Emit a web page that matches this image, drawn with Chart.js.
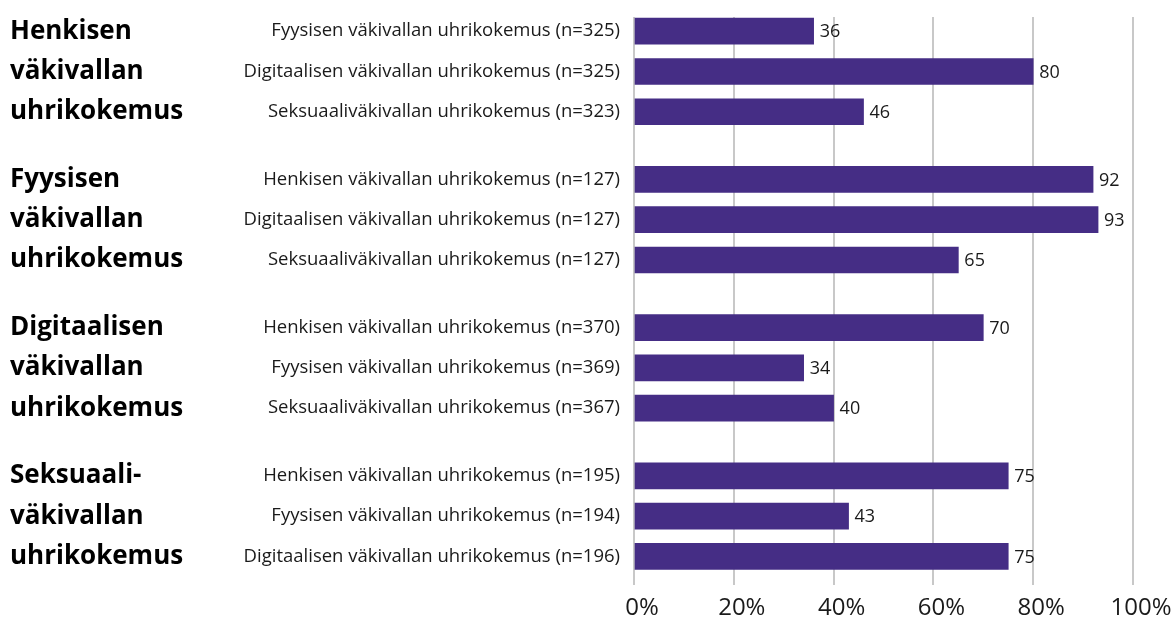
<!DOCTYPE html>
<html>
<head>
<meta charset="utf-8">
<script src="https://cdn.jsdelivr.net/npm/chart.js@4/dist/chart.umd.min.js"></script>
<style>
  body { margin: 0; background: #fff; }
  .chart-ctnr { width: 1175px; height: 621px; position: relative; }
</style>
</head>
<body>
<div class="chart-ctnr"><canvas id="barchart"></canvas></div>
<script>
// bar labels, top to bottom
const categories = [
  "Fyysisen väkivallan uhrikokemus (n=325)",
  "Digitaalisen väkivallan uhrikokemus (n=325)",
  "Seksuaaliväkivallan uhrikokemus (n=323)",
  "Henkisen väkivallan uhrikokemus (n=127)",
  "Digitaalisen väkivallan uhrikokemus (n=127)",
  "Seksuaaliväkivallan uhrikokemus (n=127)",
  "Henkisen väkivallan uhrikokemus (n=370)",
  "Fyysisen väkivallan uhrikokemus (n=369)",
  "Seksuaaliväkivallan uhrikokemus (n=367)",
  "Henkisen väkivallan uhrikokemus (n=195)",
  "Fyysisen väkivallan uhrikokemus (n=194)",
  "Digitaalisen väkivallan uhrikokemus (n=196)",
];
const values = [36, 80, 46, 92, 93, 65, 70, 34, 40, 75, 43, 75];
// which group every bar belongs to
const groupOf = [0, 0, 0, 1, 1, 1, 2, 2, 2, 3, 3, 3];
// group headings, one line per bar row
const groupLines = [
  "Henkisen", "väkivallan", "uhrikokemus",
  "Fyysisen", "väkivallan", "uhrikokemus",
  "Digitaalisen", "väkivallan", "uhrikokemus",
  "Seksuaali-", "väkivallan", "uhrikokemus",
];
const xTicks = [0, 20, 40, 60, 80, 100];

const FONT = "'Open Sans', 'Noto Sans', sans-serif";
const GROUP_GAP = 0.68;

// row position = bar index plus an extra gap for every group before it
const rowPos = categories.map((c, i) => i + groupOf[i] * GROUP_GAP);
const yMin = -0.35;
const yMax = rowPos[rowPos.length - 1] + 0.71;

// write the value just after the end of each bar
const valueLabelPlugin = {
  id: "valueLabels",
  afterDatasetsDraw(chart) {
    const ctx = chart.ctx;
    const meta = chart.getDatasetMeta(0);
    ctx.save();
    ctx.font = "18px " + FONT;
    ctx.fillStyle = "#1a1a1a";
    ctx.textAlign = "left";
    ctx.textBaseline = "middle";
    meta.data.forEach((bar, i) => {
      ctx.fillText(values[i], bar.x + 6, bar.y + 1);
    });
    ctx.restore();
  },
};

const ctx = document.getElementById("barchart");
new Chart(ctx, {
  type: "bar",
  data: {
    datasets: [
      {
        data: values.map((v, i) => ({ x: v, y: rowPos[i] })),
        backgroundColor: "#452d85",
        barThickness: 26,
        yAxisID: "y",
      },
    ],
  },
  options: {
    indexAxis: "y",
    responsive: true,
    maintainAspectRatio: false,
    animation: false,
    layout: { padding: { top: 12, left: 10, right: 42, bottom: 0 } },
    plugins: { legend: { display: false }, tooltip: { enabled: false } },
    scales: {
      x: {
        type: "linear",
        min: 0,
        max: 100,
        afterBuildTicks: (axis) => {
          axis.ticks = xTicks.map((v) => ({ value: v }));
        },
        afterFit: (axis) => {
          axis.height = 36;
        },
        ticks: {
          callback: (v) => v + "%",
          font: { family: FONT, size: 24 },
          color: "#1a1a1a",
          padding: 9,
          labelOffset: 8,
          maxRotation: 0,
        },
        grid: { color: "#c8c8c8", lineWidth: 2, drawTicks: false },
        border: { display: false },
      },
      y: {
        type: "linear",
        reverse: true,
        offset: false,
        min: yMin,
        max: yMax,
        weight: 0,
        afterBuildTicks: (axis) => {
          axis.ticks = rowPos.map((v) => ({ value: v }));
        },
        afterFit: (axis) => {
          axis.width = 404;
        },
        ticks: {
          autoSkip: false,
          callback: (v, i) => categories[i],
          font: { family: FONT, size: 18.5 },
          color: "#1a1a1a",
          padding: 6,
        },
        grid: { display: false, offset: false },
        border: { display: false },
      },
      y2: {
        type: "linear",
        position: "left",
        reverse: true,
        offset: false,
        min: yMin,
        max: yMax,
        weight: 1,
        afterBuildTicks: (axis) => {
          axis.ticks = rowPos.map((v) => ({ value: v }));
        },
        afterFit: (axis) => {
          axis.width = 220;
        },
        ticks: {
          autoSkip: false,
          crossAlign: "far",
          callback: (v, i) => groupLines[i],
          font: { family: FONT, size: 26, weight: "bold" },
          color: "#000",
          padding: 0,
        },
        grid: { display: false, offset: false },
        border: { display: false },
      },
    },
  },
  plugins: [valueLabelPlugin],
});
</script>
</body>
</html>
